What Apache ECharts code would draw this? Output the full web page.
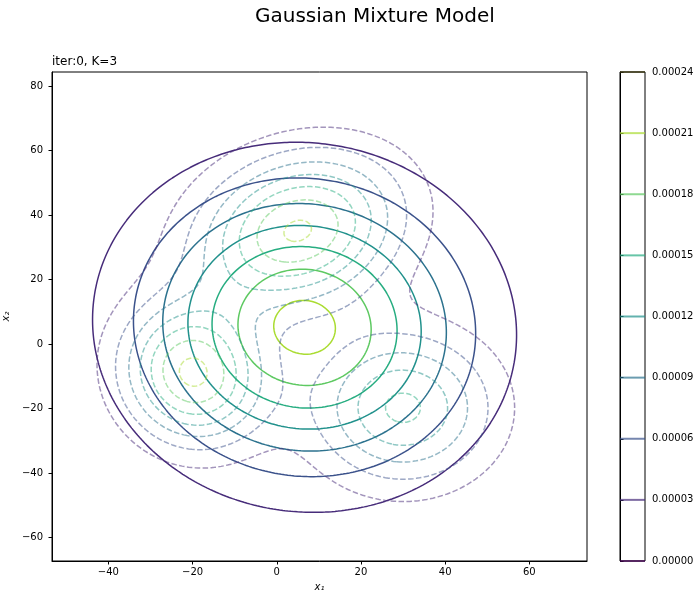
<!DOCTYPE html>
<html><head><meta charset="utf-8">
<script src="https://cdn.jsdelivr.net/npm/echarts@6/dist/echarts.min.js"></script>
<style>html,body{margin:0;padding:0;background:#fff}#c{width:700px;height:601px}</style>
</head><body><div id="c"></div>
<script>
// ---- data ----
const xRange = [-53.4, 73.7];
const yRange = [-67.3, 84.4];
const xTicks = [-40, -20, 0, 20, 40, 60];
const yTicks = [-60, -40, -20, 0, 20, 40, 60, 80];
const levels = [0, 0.00003, 0.00006, 0.00009, 0.00012, 0.00015, 0.00018, 0.00021, 0.00024];
const levelColors = ['#440154', '#472c7a', '#3b528b', '#2c728e', '#21918c', '#27ad81', '#5ec962', '#aadc32', '#fde725'];
// fitted single Gaussian (solid contours), K=3 at iter 0
const fitMean = [6.6, 5.2];
const fitCov = [[638, -30], [-30, 829]];
// reference mixture (dashed contours)
const mixWeights = [0.346, 0.226, 0.229];
const mixMeans = [[5.0, 35.2], [-20.0, -9.2], [30.0, -19.8]];
const mixCovs = [[[262, 50], [50, 262]], [[130, -14], [-14, 216]], [[213, 0], [0, 256]]];

// ---- density helpers ----
function gaussPdf(m, S, x, y) {
  const a = S[0][0], b = S[0][1], d = S[1][1];
  const det = a * d - b * b;
  const dx = x - m[0], dy = y - m[1];
  const q = (d * dx * dx - 2 * b * dx * dy + a * dy * dy) / det;
  return Math.exp(-0.5 * q) / (2 * Math.PI * Math.sqrt(det));
}
const fitPdf = (x, y) => gaussPdf(fitMean, fitCov, x, y);
const mixPdf = (x, y) => mixWeights.reduce((s, w, k) => s + w * gaussPdf(mixMeans[k], mixCovs[k], x, y), 0);

const NX = 330, NY = 390;
function buildGrid(fn) {
  const xs = [], ys = [], v = [];
  for (let i = 0; i < NX; i++) xs.push(xRange[0] + (xRange[1] - xRange[0]) * i / (NX - 1));
  for (let j = 0; j < NY; j++) ys.push(yRange[0] + (yRange[1] - yRange[0]) * j / (NY - 1));
  for (let j = 0; j < NY; j++) { const row = []; for (let i = 0; i < NX; i++) row.push(fn(xs[i], ys[j])); v.push(row); }
  return { xs, ys, v };
}
function contour(g, L) {
  const { xs, ys, v } = g;
  const pts = new Map(), segs = [], adj = new Map();
  function pt(key, xa, ya, va, xb, yb, vb) {
    if (!pts.has(key)) { const t = (L - va) / (vb - va); pts.set(key, [xa + t * (xb - xa), ya + t * (yb - ya)]); }
    return key;
  }
  function addSeg(k1, k2) {
    const id = segs.length; segs.push([k1, k2]);
    for (const k of [k1, k2]) { if (!adj.has(k)) adj.set(k, []); adj.get(k).push(id); }
  }
  for (let j = 0; j < NY - 1; j++) for (let i = 0; i < NX - 1; i++) {
    const a = v[j][i], b = v[j][i + 1], c = v[j + 1][i + 1], d = v[j + 1][i];
    const sa = a >= L, sb = b >= L, sc = c >= L, sd = d >= L;
    if (sa === sb && sb === sc && sc === sd) continue;
    const E = {};
    if (sa !== sb) E.B = pt('h' + i + '_' + j, xs[i], ys[j], a, xs[i + 1], ys[j], b);
    if (sb !== sc) E.R = pt('v' + (i + 1) + '_' + j, xs[i + 1], ys[j], b, xs[i + 1], ys[j + 1], c);
    if (sd !== sc) E.T = pt('h' + i + '_' + (j + 1), xs[i], ys[j + 1], d, xs[i + 1], ys[j + 1], c);
    if (sa !== sd) E.L = pt('v' + i + '_' + j, xs[i], ys[j], a, xs[i], ys[j + 1], d);
    const ks = Object.keys(E);
    if (ks.length === 2) addSeg(E[ks[0]], E[ks[1]]);
    else if (ks.length === 4) {
      const s0 = (a + b + c + d) / 4 >= L;
      if (sa !== s0) addSeg(E.B, E.L);
      if (sb !== s0) addSeg(E.B, E.R);
      if (sc !== s0) addSeg(E.R, E.T);
      if (sd !== s0) addSeg(E.T, E.L);
    }
  }
  const used = new Array(segs.length).fill(false);
  const lines = [];
  for (let s = 0; s < segs.length; s++) {
    if (used[s]) continue;
    used[s] = true;
    const chain = [segs[s][0], segs[s][1]];
    let cur = segs[s][1];
    while (true) {
      const nxt = (adj.get(cur) || []).find(id => !used[id]);
      if (nxt === undefined) break;
      used[nxt] = true; const [p, q] = segs[nxt]; cur = (p === cur) ? q : p; chain.push(cur);
    }
    cur = segs[s][0];
    while (true) {
      const nxt = (adj.get(cur) || []).find(id => !used[id]);
      if (nxt === undefined) break;
      used[nxt] = true; const [p, q] = segs[nxt]; cur = (p === cur) ? q : p; chain.unshift(cur);
    }
    lines.push(chain.map(k => pts.get(k)));
  }
  return lines;
}

const fitGrid = buildGrid(fitPdf);
const mixGrid = buildGrid(mixPdf);
const series = [];
levels.forEach((L, idx) => {
  contour(fitGrid, L).forEach(line => series.push({
    type: 'line', xAxisIndex: 0, yAxisIndex: 0, data: line, showSymbol: false, symbol: 'none',
    silent: true, clip: true, z: 2,
    lineStyle: { color: levelColors[idx], width: 1.5 }
  }));
});
levels.forEach((L, idx) => {
  contour(mixGrid, L).forEach(line => series.push({
    type: 'line', xAxisIndex: 0, yAxisIndex: 0, data: line, showSymbol: false, symbol: 'none',
    silent: true, clip: true, z: 3,
    lineStyle: { color: levelColors[idx], width: 1.5, opacity: 0.5, type: [5.5, 2.4] }
  }));
});
levels.forEach((L, idx) => series.push({
  type: 'line', xAxisIndex: 1, yAxisIndex: 1, data: [[0, L], [1, L]], showSymbol: false, symbol: 'none',
  silent: true, clip: false, z: 2,
  lineStyle: { color: idx === levels.length - 1 ? '#3d3a14' : levelColors[idx], width: 2, opacity: 0.7 }
}));

const fmt = v => String(v).replace('-', '\u2212');
const font = { fontFamily: 'DejaVu Sans', fontSize: 10, color: '#000' };
const chart = echarts.init(document.getElementById('c'), null, { renderer: 'canvas' });
chart.setOption({
  animation: false,
  backgroundColor: '#fff',
  title: [
    { text: 'Gaussian Mixture Model', left: 255, top: 7, padding: 0, textStyle: { fontFamily: 'DejaVu Sans', fontSize: 20, fontWeight: 'normal', color: '#000' } },
    { text: 'iter:0, K=3', left: 52, top: 56, padding: 0, textStyle: { fontFamily: 'DejaVu Sans', fontSize: 12, fontWeight: 'normal', color: '#000' } }
  ],
  grid: [
    { left: 52, top: 72, width: 535, height: 489, show: true, borderColor: '#000', borderWidth: 1, backgroundColor: 'transparent', containLabel: false, outerBoundsMode: 'none' },
    { left: 620, top: 72, width: 25, height: 489, show: true, borderColor: '#000', borderWidth: 1, backgroundColor: 'transparent', containLabel: false, outerBoundsMode: 'none' }
  ],
  xAxis: [
    { type: 'value', gridIndex: 0, min: xRange[0], max: xRange[1],
      name: 'x\u2081', nameLocation: 'middle', nameGap: 21,
      nameTextStyle: { fontFamily: 'DejaVu Sans', fontSize: 10, fontStyle: 'italic', color: '#000' },
      axisLine: { show: true, onZero: false, lineStyle: { color: '#000', width: 1 } },
      axisTick: { show: true, length: 3.5, customValues: xTicks, lineStyle: { color: '#000' } },
      axisLabel: Object.assign({ customValues: xTicks, formatter: fmt, margin: 6 }, font),
      splitLine: { show: false } },
    { type: 'value', gridIndex: 1, min: 0, max: 1, show: false }
  ],
  yAxis: [
    { type: 'value', gridIndex: 0, min: yRange[0], max: yRange[1],
      name: 'x\u2082', nameLocation: 'middle', nameGap: 34, nameRotate: 90,
      nameTextStyle: { fontFamily: 'DejaVu Sans', fontSize: 10, fontStyle: 'italic', color: '#000' },
      axisLine: { show: true, onZero: false, lineStyle: { color: '#000', width: 1 } },
      axisTick: { show: true, length: 3.5, customValues: yTicks, lineStyle: { color: '#000' } },
      axisLabel: Object.assign({ customValues: yTicks, formatter: fmt, margin: 9 }, font),
      splitLine: { show: false } },
    { type: 'value', gridIndex: 1, min: 0, max: 0.00024, position: 'right',
      axisLine: { show: true, lineStyle: { color: '#000', width: 1 } },
      axisTick: { show: true, length: 3.5, customValues: levels, lineStyle: { color: '#000' } },
      axisLabel: Object.assign({ customValues: levels, formatter: v => Number(v).toFixed(5), margin: 7 }, font),
      splitLine: { show: false } }
  ],
  series: series
});
</script></body></html>
